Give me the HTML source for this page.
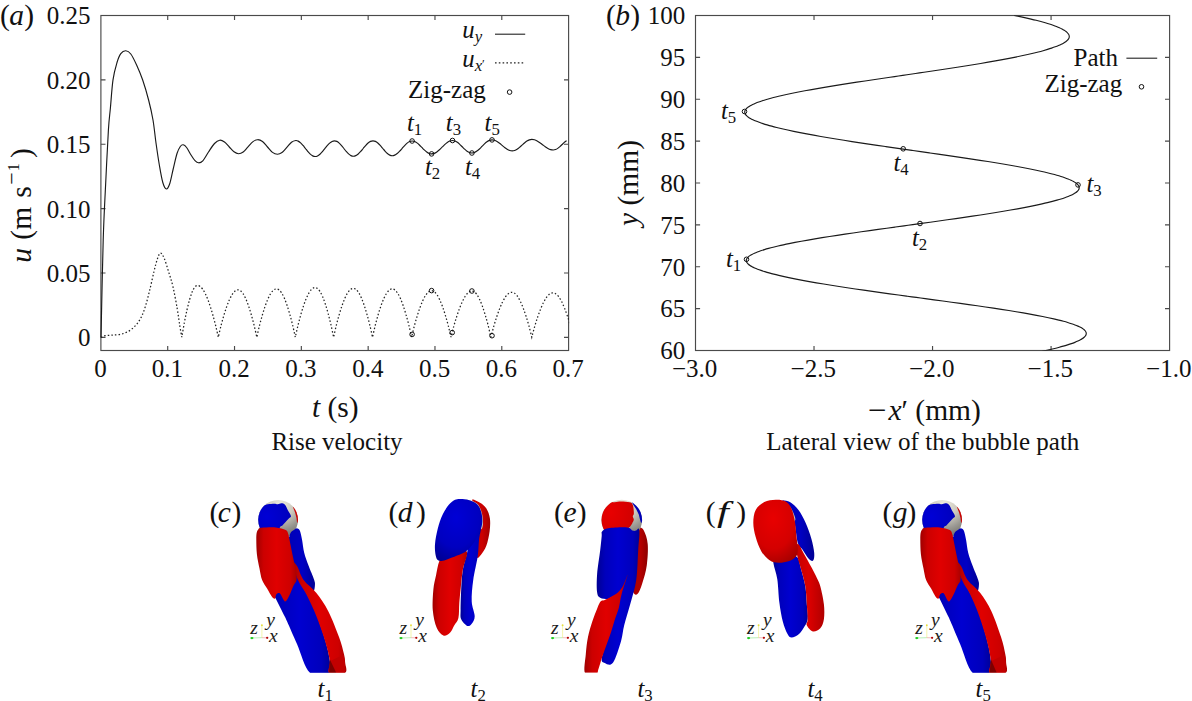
<!DOCTYPE html>
<html lang="en">
<head>
<meta charset="utf-8">
<title>Bubble rise velocity and zig-zag path</title>
<style>
html,body{margin:0;padding:0;background:#fff;}
body{width:1192px;height:701px;overflow:hidden;font-family:"Liberation Serif",serif;}
svg{display:block;}
</style>
</head>
<body>
<svg width="1192" height="701" viewBox="0 0 1192 701">
<rect width="1192" height="701" fill="#fff"/>
<g stroke="#4a4a4a" stroke-width="1.15" fill="none">
<rect x="100.90" y="15.50" width="467.70" height="335.00"/>
<path d="M167.71 350.50v-4.60 M167.71 15.50v4.60"/>
<path d="M234.53 350.50v-4.60 M234.53 15.50v4.60"/>
<path d="M301.34 350.50v-4.60 M301.34 15.50v4.60"/>
<path d="M368.16 350.50v-4.60 M368.16 15.50v4.60"/>
<path d="M434.97 350.50v-4.60 M434.97 15.50v4.60"/>
<path d="M501.79 350.50v-4.60 M501.79 15.50v4.60"/>
<path d="M100.90 337.40h4.60 M568.60 337.40h-4.60"/>
<path d="M100.90 273.00h4.60 M568.60 273.00h-4.60"/>
<path d="M100.90 208.60h4.60 M568.60 208.60h-4.60"/>
<path d="M100.90 144.20h4.60 M568.60 144.20h-4.60"/>
<path d="M100.90 79.80h4.60 M568.60 79.80h-4.60"/>
</g>
<g stroke="#4a4a4a" stroke-width="1.15" fill="none">
<rect x="695.50" y="15.50" width="474.10" height="335.00"/>
<path d="M814.02 350.50v-4.60 M814.02 15.50v4.60"/>
<path d="M932.55 350.50v-4.60 M932.55 15.50v4.60"/>
<path d="M1051.07 350.50v-4.60 M1051.07 15.50v4.60"/>
<path d="M695.50 308.62h4.60 M1169.60 308.62h-4.60"/>
<path d="M695.50 266.75h4.60 M1169.60 266.75h-4.60"/>
<path d="M695.50 224.88h4.60 M1169.60 224.88h-4.60"/>
<path d="M695.50 183.00h4.60 M1169.60 183.00h-4.60"/>
<path d="M695.50 141.12h4.60 M1169.60 141.12h-4.60"/>
<path d="M695.50 99.25h4.60 M1169.60 99.25h-4.60"/>
<path d="M695.50 57.38h4.60 M1169.60 57.38h-4.60"/>
</g>
<g font-family="Liberation Serif, serif" font-size="25.0" fill="#111">
<text x="90.6" y="346.40" text-anchor="end">0</text>
<text x="90.6" y="282.00" text-anchor="end">0.05</text>
<text x="90.6" y="217.60" text-anchor="end">0.10</text>
<text x="90.6" y="153.20" text-anchor="end">0.15</text>
<text x="90.6" y="88.80" text-anchor="end">0.20</text>
<text x="90.6" y="24.40" text-anchor="end">0.25</text>
<text x="100.50" y="376.8" text-anchor="middle">0</text>
<text x="167.31" y="376.8" text-anchor="middle">0.1</text>
<text x="234.13" y="376.8" text-anchor="middle">0.2</text>
<text x="300.94" y="376.8" text-anchor="middle">0.3</text>
<text x="367.76" y="376.8" text-anchor="middle">0.4</text>
<text x="434.57" y="376.8" text-anchor="middle">0.5</text>
<text x="501.39" y="376.8" text-anchor="middle">0.6</text>
<text x="568.20" y="376.8" text-anchor="middle">0.7</text>
<text x="685.2" y="359.30" text-anchor="end">60</text>
<text x="685.2" y="317.43" text-anchor="end">65</text>
<text x="685.2" y="275.55" text-anchor="end">70</text>
<text x="685.2" y="233.68" text-anchor="end">75</text>
<text x="685.2" y="191.80" text-anchor="end">80</text>
<text x="685.2" y="149.93" text-anchor="end">85</text>
<text x="685.2" y="108.05" text-anchor="end">90</text>
<text x="685.2" y="66.17" text-anchor="end">95</text>
<text x="685.2" y="24.30" text-anchor="end">100</text>
<text x="694.70" y="376.8" text-anchor="middle">−3.0</text>
<text x="813.23" y="376.8" text-anchor="middle">−2.5</text>
<text x="931.75" y="376.8" text-anchor="middle">−2.0</text>
<text x="1050.27" y="376.8" text-anchor="middle">−1.5</text>
<text x="1168.80" y="376.8" text-anchor="middle">−1.0</text>
<text x="337" y="450.2" text-anchor="middle">Rise velocity</text>
<text x="922.8" y="450.2" text-anchor="middle">Lateral view of the bubble path</text>
</g>
<g font-family="Liberation Serif, serif" font-size="29.5" fill="#111">
<text y="24.5"><tspan x="-0.1">(</tspan><tspan x="9.3" font-style="italic">a</tspan><tspan x="24.3">)</tspan></text>
<text y="24.7"><tspan x="606.0">(</tspan><tspan x="615.2" font-style="italic">b</tspan><tspan x="630.2">)</tspan></text>
<text x="335.3" y="416.6" text-anchor="middle"><tspan font-style="italic">t</tspan> (s)</text>
<text y="419.6"><tspan x="868.0" textLength="18.6" lengthAdjust="spacingAndGlyphs">−</tspan><tspan x="888.4" font-style="italic">x</tspan>′ (mm)</text>
<text transform="translate(30.7 262.8) rotate(-90)"><tspan font-style="italic">u</tspan><tspan dx="1"> (m</tspan><tspan dx="1.7"> s</tspan><tspan font-size="22" dy="-12" dx="1.7">−</tspan><tspan font-size="16" dx="0.9">1</tspan><tspan dy="12" dx="5.4">)</tspan></text>
<text transform="translate(638.3 183) rotate(-90)" text-anchor="middle"><tspan font-style="italic">y</tspan> (mm)</text>
</g>
<clipPath id="clipA"><rect x="99.90" y="15.50" width="469.20" height="335.00"/></clipPath>
<path d="M101.00 337.40 C101.37 321.17 102.43 265.40 103.20 240.00 C103.97 214.60 104.73 203.33 105.60 185.00 C106.47 166.67 107.60 142.83 108.40 130.00 C109.20 117.17 109.63 116.37 110.40 108.00 C111.17 99.63 111.90 87.38 113.00 79.80 C114.10 72.22 115.70 66.87 117.00 62.50 C118.30 58.13 119.33 55.55 120.80 53.60 C122.27 51.65 124.13 50.73 125.80 50.80 C127.47 50.87 129.00 51.63 130.80 54.00 C132.60 56.37 134.63 60.70 136.60 65.00 C138.57 69.30 140.60 73.97 142.60 79.80 C144.60 85.63 146.87 93.30 148.60 100.00 C150.33 106.70 151.77 112.83 153.00 120.00 C154.23 127.17 154.92 135.33 156.00 143.00 C157.08 150.67 158.37 159.42 159.50 166.00 C160.63 172.58 161.65 178.67 162.80 182.50 C163.95 186.33 165.23 188.83 166.40 189.00 C167.57 189.17 168.67 186.83 169.80 183.50 C170.93 180.17 172.00 174.00 173.20 169.00 C174.40 164.00 175.82 157.25 177.00 153.50 C178.18 149.75 179.27 147.95 180.30 146.50 C181.33 145.05 182.15 144.63 183.20 144.80 C184.25 144.97 185.30 145.80 186.60 147.50 C187.90 149.20 189.60 152.80 191.00 155.00 C192.40 157.20 193.73 159.40 195.00 160.70 C196.27 162.00 197.30 162.78 198.60 162.80 C199.90 162.82 201.15 162.60 202.80 160.80 C204.45 159.00 206.55 154.88 208.50 152.00 C210.45 149.12 212.63 145.47 214.50 143.50 C216.37 141.53 218.03 140.45 219.70 140.20 C221.37 139.95 222.90 140.87 224.50 142.00 C226.10 143.13 227.72 145.37 229.30 147.00 C230.88 148.63 232.47 150.68 234.00 151.80 C235.53 152.92 236.97 153.67 238.50 153.70 C240.03 153.73 241.62 153.15 243.20 152.00 C244.78 150.85 246.37 148.53 248.00 146.80 C249.63 145.07 251.38 142.78 253.00 141.60 C254.62 140.42 256.12 139.72 257.70 139.70 C259.28 139.68 260.87 140.28 262.50 141.50 C264.13 142.72 265.83 145.18 267.50 147.00 C269.17 148.82 270.85 151.20 272.50 152.40 C274.15 153.60 275.82 154.18 277.40 154.20 C278.98 154.22 280.43 153.63 282.00 152.50 C283.57 151.37 285.22 149.12 286.80 147.40 C288.38 145.68 290.00 143.35 291.50 142.20 C293.00 141.05 294.68 140.68 295.80 140.50 C296.92 140.32 297.41 140.72 298.21 141.11 C299.02 141.50 299.82 142.12 300.62 142.84 C301.43 143.56 302.23 144.50 303.04 145.44 C303.84 146.38 304.65 147.48 305.45 148.50 C306.25 149.52 307.06 150.62 307.86 151.56 C308.67 152.50 309.47 153.44 310.28 154.16 C311.08 154.88 311.88 155.50 312.69 155.89 C313.49 156.28 314.29 156.50 315.10 156.50 C315.91 156.50 316.72 156.29 317.53 155.90 C318.33 155.52 319.14 154.91 319.95 154.20 C320.76 153.49 321.57 152.58 322.38 151.65 C323.18 150.73 323.99 149.65 324.80 148.65 C325.61 147.65 326.42 146.57 327.23 145.65 C328.03 144.72 328.84 143.81 329.65 143.10 C330.46 142.39 331.27 141.78 332.07 141.40 C332.88 141.01 333.70 140.80 334.50 140.80 C335.30 140.80 336.07 141.01 336.85 141.39 C337.63 141.76 338.42 142.36 339.20 143.06 C339.98 143.75 340.77 144.65 341.55 145.55 C342.33 146.46 343.12 147.52 343.90 148.50 C344.68 149.48 345.47 150.54 346.25 151.45 C347.03 152.35 347.82 153.25 348.60 153.94 C349.38 154.64 350.17 155.24 350.95 155.61 C351.73 155.99 352.50 156.20 353.30 156.20 C354.10 156.20 354.94 155.99 355.76 155.61 C356.58 155.24 357.40 154.64 358.23 153.94 C359.05 153.25 359.87 152.35 360.69 151.45 C361.51 150.54 362.33 149.48 363.15 148.50 C363.97 147.52 364.79 146.46 365.61 145.55 C366.43 144.65 367.25 143.75 368.07 143.06 C368.90 142.36 369.72 141.76 370.54 141.39 C371.36 141.01 372.19 140.80 373.00 140.80 C373.81 140.80 374.60 141.00 375.40 141.37 C376.20 141.73 377.00 142.31 377.80 142.98 C378.60 143.65 379.40 144.52 380.20 145.40 C381.00 146.28 381.80 147.30 382.60 148.25 C383.40 149.20 384.20 150.22 385.00 151.10 C385.80 151.98 386.60 152.85 387.40 153.52 C388.20 154.19 389.00 154.77 389.80 155.13 C390.60 155.50 391.39 155.70 392.20 155.70 C393.01 155.70 393.86 155.50 394.69 155.14 C395.52 154.78 396.35 154.21 397.18 153.55 C398.00 152.88 398.83 152.03 399.66 151.16 C400.49 150.30 401.32 149.29 402.15 148.35 C402.98 147.41 403.81 146.40 404.64 145.54 C405.47 144.67 406.30 143.82 407.12 143.15 C407.95 142.49 408.78 141.92 409.61 141.56 C410.44 141.20 411.28 141.01 412.10 141.00 C412.92 140.99 413.73 141.18 414.54 141.49 C415.35 141.81 416.16 142.31 416.98 142.89 C417.79 143.47 418.60 144.22 419.41 144.98 C420.23 145.74 421.04 146.63 421.85 147.45 C422.66 148.27 423.48 149.16 424.29 149.92 C425.10 150.68 425.91 151.43 426.73 152.01 C427.54 152.59 428.35 153.09 429.16 153.41 C429.98 153.72 430.76 153.90 431.60 153.90 C432.44 153.90 433.34 153.72 434.21 153.39 C435.08 153.06 435.95 152.54 436.83 151.94 C437.70 151.33 438.57 150.55 439.44 149.76 C440.31 148.97 441.18 148.05 442.05 147.20 C442.92 146.35 443.79 145.43 444.66 144.64 C445.53 143.85 446.40 143.07 447.27 142.46 C448.15 141.86 449.02 141.34 449.89 141.01 C450.76 140.68 451.66 140.51 452.50 140.50 C453.34 140.49 454.12 140.67 454.93 140.98 C455.73 141.28 456.54 141.77 457.35 142.33 C458.16 142.89 458.97 143.62 459.77 144.36 C460.58 145.09 461.39 145.95 462.20 146.75 C463.01 147.55 463.82 148.41 464.62 149.14 C465.43 149.88 466.24 150.61 467.05 151.17 C467.86 151.73 468.67 152.22 469.47 152.52 C470.28 152.83 471.08 153.00 471.90 153.00 C472.72 153.00 473.57 152.82 474.41 152.50 C475.25 152.18 476.09 151.67 476.92 151.08 C477.76 150.49 478.60 149.73 479.44 148.96 C480.27 148.18 481.11 147.29 481.95 146.45 C482.79 145.61 483.62 144.72 484.46 143.94 C485.30 143.17 486.14 142.41 486.98 141.82 C487.81 141.23 488.65 140.72 489.49 140.40 C490.32 140.08 491.16 139.91 492.00 139.90 C492.84 139.89 493.68 140.05 494.52 140.32 C495.37 140.59 496.21 141.01 497.05 141.51 C497.89 142.01 498.73 142.65 499.58 143.30 C500.42 143.94 501.26 144.70 502.10 145.40 C502.94 146.10 503.78 146.86 504.62 147.50 C505.47 148.15 506.31 148.79 507.15 149.29 C507.99 149.79 508.83 150.21 509.68 150.48 C510.52 150.75 511.37 150.90 512.20 150.90 C513.03 150.90 513.83 150.74 514.65 150.46 C515.47 150.18 516.28 149.73 517.10 149.22 C517.92 148.70 518.73 148.03 519.55 147.35 C520.37 146.67 521.18 145.88 522.00 145.15 C522.82 144.42 523.63 143.63 524.45 142.95 C525.27 142.27 526.08 141.60 526.90 141.08 C527.72 140.57 528.53 140.12 529.35 139.84 C530.17 139.56 530.94 139.41 531.80 139.40 C532.66 139.39 533.59 139.54 534.49 139.80 C535.38 140.06 536.28 140.47 537.17 140.95 C538.07 141.43 538.97 142.05 539.86 142.67 C540.76 143.30 541.65 144.02 542.55 144.70 C543.45 145.38 544.34 146.10 545.24 146.73 C546.13 147.35 547.03 147.97 547.92 148.45 C548.82 148.93 549.72 149.34 550.61 149.60 C551.51 149.86 552.48 150.00 553.30 150.00 C554.12 150.00 554.77 149.85 555.51 149.58 C556.25 149.31 556.99 148.89 557.72 148.39 C558.46 147.89 559.20 147.25 559.94 146.60 C560.67 145.96 561.41 145.20 562.15 144.50 C562.89 143.80 563.62 143.04 564.36 142.40 C565.10 141.75 566.21 140.91 566.58 140.61" fill="none" stroke="#1a1a1a" stroke-width="1.15" stroke-linejoin="round" clip-path="url(#clipA)"/>
<path d="M101.00 337.40 C101.33 337.22 102.28 336.58 103.00 336.30 C103.72 336.02 103.80 335.90 105.30 335.70 C106.80 335.50 109.43 335.33 112.00 335.10 C114.57 334.87 117.83 335.00 120.70 334.30 C123.57 333.60 126.63 332.47 129.20 330.90 C131.77 329.33 134.10 327.18 136.10 324.90 C138.10 322.62 139.63 320.33 141.20 317.20 C142.77 314.07 144.07 310.67 145.50 306.10 C146.93 301.53 148.37 295.65 149.80 289.80 C151.23 283.95 152.82 276.20 154.10 271.00 C155.38 265.80 156.42 261.60 157.50 258.60 C158.58 255.60 159.47 253.00 160.60 253.00 C161.73 253.00 162.97 255.47 164.30 258.60 C165.63 261.73 167.17 267.17 168.60 271.80 C170.03 276.43 171.47 280.27 172.90 286.40 C174.33 292.53 176.05 302.03 177.20 308.60 C178.35 315.17 179.03 321.03 179.80 325.80 C180.57 330.57 181.47 335.30 181.80 337.20 L181.80 337.20 C182.23 334.71 183.54 326.82 184.41 322.25 C185.28 317.69 186.15 313.60 187.01 309.81 C187.88 306.03 188.75 302.54 189.62 299.54 C190.49 296.54 191.36 293.92 192.23 291.84 C193.10 289.76 193.97 288.14 194.84 287.08 C195.70 286.02 196.57 285.61 197.44 285.50 C198.31 285.39 199.18 285.83 200.05 286.44 C200.92 287.05 201.79 287.98 202.66 289.18 C203.53 290.37 204.40 291.88 205.26 293.63 C206.13 295.38 207.00 297.42 207.87 299.67 C208.74 301.92 209.61 304.44 210.48 307.14 C211.35 309.84 212.22 312.78 213.09 315.87 C213.95 318.97 214.82 322.17 215.69 325.73 C216.56 329.28 217.87 335.29 218.30 337.20 L218.30 337.20 C218.76 335.26 220.13 329.14 221.05 325.55 C221.97 321.96 222.88 318.73 223.80 315.65 C224.72 312.56 225.63 309.67 226.55 307.06 C227.47 304.45 228.38 302.05 229.30 299.98 C230.22 297.91 231.13 296.10 232.05 294.64 C232.97 293.18 233.88 292.02 234.80 291.21 C235.72 290.41 236.63 289.93 237.55 289.83 C238.47 289.73 239.38 289.97 240.30 290.60 C241.22 291.24 242.13 292.27 243.05 293.64 C243.97 295.01 244.88 296.77 245.80 298.82 C246.72 300.87 247.63 303.28 248.55 305.94 C249.47 308.60 250.38 311.58 251.30 314.76 C252.22 317.95 253.13 321.31 254.05 325.05 C254.97 328.79 256.34 335.17 256.80 337.20 L256.80 337.20 C257.26 335.22 258.63 328.99 259.55 325.33 C260.47 321.67 261.38 318.38 262.30 315.24 C263.22 312.09 264.13 309.14 265.05 306.48 C265.97 303.82 266.88 301.38 267.80 299.27 C268.72 297.16 269.63 295.32 270.55 293.83 C271.47 292.34 272.38 291.16 273.30 290.34 C274.22 289.52 275.13 289.03 276.05 288.93 C276.97 288.82 277.88 289.07 278.80 289.72 C279.72 290.37 280.63 291.42 281.55 292.81 C282.47 294.21 283.38 296.00 284.30 298.09 C285.22 300.18 286.13 302.64 287.05 305.35 C287.97 308.06 288.88 311.09 289.80 314.34 C290.72 317.58 291.63 321.01 292.55 324.82 C293.47 328.63 294.84 335.14 295.30 337.20 L295.30 337.20 C295.76 335.19 297.12 328.85 298.04 325.12 C298.95 321.40 299.86 318.05 300.77 314.84 C301.68 311.64 302.60 308.63 303.51 305.91 C304.42 303.19 305.33 300.69 306.24 298.52 C307.15 296.35 308.07 294.45 308.98 292.90 C309.89 291.35 310.80 290.11 311.71 289.24 C312.63 288.37 313.54 287.81 314.45 287.66 C315.36 287.51 316.27 287.69 317.19 288.31 C318.10 288.93 319.01 289.98 319.92 291.38 C320.83 292.79 321.75 294.62 322.66 296.75 C323.57 298.89 324.48 301.43 325.39 304.22 C326.30 307.01 327.22 310.15 328.13 313.50 C329.04 316.86 329.95 320.41 330.86 324.36 C331.78 328.31 333.14 335.06 333.60 337.20 L333.60 337.20 C334.06 335.18 335.45 328.83 336.38 325.09 C337.30 321.36 338.23 318.01 339.16 314.81 C340.08 311.61 341.01 308.61 341.94 305.91 C342.86 303.22 343.79 300.74 344.71 298.62 C345.64 296.49 346.57 294.63 347.49 293.15 C348.42 291.66 349.35 290.49 350.27 289.70 C351.20 288.91 352.12 288.47 353.05 288.41 C353.98 288.35 354.90 288.66 355.83 289.36 C356.75 290.05 357.68 291.15 358.61 292.58 C359.53 294.01 360.46 295.84 361.39 297.96 C362.31 300.07 363.24 302.56 364.16 305.28 C365.09 308.01 366.02 311.06 366.94 314.31 C367.87 317.57 368.80 320.99 369.72 324.81 C370.65 328.62 372.04 335.13 372.50 337.20 L372.50 337.20 C372.97 335.19 374.36 328.87 375.29 325.16 C376.22 321.45 377.15 318.12 378.09 314.94 C379.02 311.77 379.95 308.79 380.88 306.11 C381.81 303.43 382.74 300.98 383.67 298.88 C384.60 296.78 385.53 294.95 386.46 293.49 C387.40 292.03 388.33 290.88 389.26 290.12 C390.19 289.36 391.12 288.94 392.05 288.90 C392.98 288.87 393.91 289.21 394.84 289.91 C395.77 290.62 396.70 291.72 397.64 293.15 C398.57 294.58 399.50 296.39 400.43 298.49 C401.36 300.59 402.29 303.05 403.22 305.74 C404.15 308.43 405.08 311.44 406.01 314.65 C406.95 317.86 407.88 321.24 408.81 324.99 C409.74 328.75 411.13 335.17 411.60 337.20 L411.60 337.20 C412.07 335.28 413.48 329.24 414.41 325.69 C415.35 322.14 416.29 318.95 417.23 315.91 C418.17 312.87 419.10 310.01 420.04 307.44 C420.98 304.87 421.92 302.52 422.86 300.49 C423.80 298.46 424.73 296.69 425.67 295.27 C426.61 293.86 427.55 292.74 428.49 291.97 C429.42 291.21 430.36 290.78 431.30 290.71 C432.24 290.65 433.18 290.93 434.11 291.58 C435.05 292.24 435.99 293.27 436.93 294.64 C437.87 296.00 438.80 297.73 439.74 299.75 C440.68 301.76 441.62 304.13 442.56 306.73 C443.50 309.33 444.43 312.24 445.37 315.35 C446.31 318.45 447.25 321.73 448.19 325.37 C449.12 329.01 450.53 335.23 451.00 337.20 L451.00 337.20 C451.48 335.35 452.90 329.52 453.85 326.08 C454.80 322.65 455.75 319.57 456.70 316.61 C457.65 313.66 458.60 310.88 459.55 308.36 C460.50 305.84 461.45 303.51 462.40 301.49 C463.35 299.47 464.30 297.69 465.25 296.23 C466.20 294.76 467.15 293.58 468.10 292.72 C469.05 291.87 470.00 291.31 470.95 291.11 C471.90 290.91 472.85 291.00 473.80 291.52 C474.75 292.05 475.70 292.97 476.65 294.25 C477.60 295.52 478.55 297.20 479.50 299.18 C480.45 301.17 481.40 303.53 482.35 306.14 C483.30 308.75 484.25 311.70 485.20 314.86 C486.15 318.01 487.10 321.36 488.05 325.08 C489.00 328.81 490.42 335.18 490.90 337.20 L490.90 337.20 C491.39 335.36 492.85 329.56 493.82 326.15 C494.80 322.75 495.77 319.68 496.74 316.76 C497.72 313.84 498.69 311.09 499.66 308.62 C500.64 306.14 501.61 303.87 502.59 301.91 C503.56 299.95 504.53 298.24 505.51 296.86 C506.48 295.47 507.45 294.38 508.43 293.62 C509.40 292.87 510.38 292.41 511.35 292.32 C512.32 292.23 513.30 292.47 514.27 293.08 C515.25 293.68 516.22 294.66 517.19 295.96 C518.17 297.26 519.14 298.93 520.11 300.87 C521.09 302.82 522.06 305.11 523.04 307.62 C524.01 310.14 524.98 312.96 525.96 315.97 C526.93 318.99 527.90 322.17 528.88 325.70 C529.85 329.24 531.31 335.28 531.80 337.20 L531.80 337.20 C532.30 335.36 533.79 329.58 534.78 326.18 C535.77 322.78 536.76 319.72 537.76 316.81 C538.75 313.90 539.74 311.17 540.74 308.72 C541.73 306.26 542.72 304.01 543.71 302.07 C544.71 300.14 545.70 298.45 546.69 297.10 C547.69 295.75 548.68 294.69 549.67 293.98 C550.66 293.26 551.66 292.86 552.65 292.81 C553.64 292.76 554.64 293.05 555.63 293.68 C556.62 294.32 557.61 295.32 558.61 296.62 C559.60 297.93 560.59 299.59 561.59 301.52 C562.58 303.44 563.57 305.70 564.56 308.18 C565.56 310.66 566.55 313.43 567.54 316.39 C568.54 319.35 570.02 324.34 570.52 325.94" fill="none" stroke="#222" stroke-width="1.25" stroke-dasharray="1.5 2.1" clip-path="url(#clipA)"/>
<g fill="none" stroke="#111" stroke-width="1.0">
<circle cx="412.1" cy="141.0" r="2.3"/>
<circle cx="431.6" cy="153.9" r="2.3"/>
<circle cx="452.5" cy="140.5" r="2.3"/>
<circle cx="471.9" cy="153.0" r="2.3"/>
<circle cx="492.0" cy="139.9" r="2.3"/>
<circle cx="412.1" cy="334.4" r="2.3"/>
<circle cx="431.6" cy="290.6" r="2.3"/>
<circle cx="452.2" cy="332.6" r="2.3"/>
<circle cx="471.9" cy="291.0" r="2.3"/>
<circle cx="492.0" cy="335.7" r="2.3"/>
<circle cx="509.6" cy="92.1" r="2.3"/>
</g>
<text x="407.0" y="130.8" font-family="Liberation Serif, serif" font-size="24.7" fill="#111"><tspan font-style="italic">t</tspan><tspan font-size="16.8" dy="3.8">1</tspan></text>
<text x="445.8" y="130.8" font-family="Liberation Serif, serif" font-size="24.7" fill="#111"><tspan font-style="italic">t</tspan><tspan font-size="16.8" dy="3.8">3</tspan></text>
<text x="484.6" y="130.8" font-family="Liberation Serif, serif" font-size="24.7" fill="#111"><tspan font-style="italic">t</tspan><tspan font-size="16.8" dy="3.8">5</tspan></text>
<text x="424.9" y="174.7" font-family="Liberation Serif, serif" font-size="24.7" fill="#111"><tspan font-style="italic">t</tspan><tspan font-size="16.8" dy="3.8">2</tspan></text>
<text x="465.0" y="174.7" font-family="Liberation Serif, serif" font-size="24.7" fill="#111"><tspan font-style="italic">t</tspan><tspan font-size="16.8" dy="3.8">4</tspan></text>
<g font-family="Liberation Serif, serif" fill="#111">
<text x="462.3" y="38.1" font-size="24.7" font-style="italic">u<tspan font-size="16.8" dy="3.6">y</tspan></text>
<text x="462.3" y="67.0" font-size="24.7" font-style="italic">u<tspan font-size="16.8" dy="3.6">x</tspan><tspan font-size="12.5" dy="-2.6" font-style="normal">′</tspan></text>
<text x="485.8" y="97.6" font-size="25.0" text-anchor="end">Zig-zag</text>
<text x="1118" y="65.6" font-size="25.0" text-anchor="end">Path</text>
<text x="1122.2" y="91.6" font-size="25.0" text-anchor="end">Zig-zag</text>
</g>
<path d="M495 34.2H525.2" stroke="#222" stroke-width="1.1"/>
<path d="M495 62.8H524" stroke="#222" stroke-width="1.2" stroke-dasharray="1.6 2.2"/>
<path d="M1126.4 58.2H1157.2" stroke="#222" stroke-width="1.1"/>
<clipPath id="clipB"><rect x="695.50" y="15.50" width="474.10" height="335.00"/></clipPath>
<path d="M1014.13 15.37 C1015.12 15.57 1018.13 16.19 1020.06 16.60 C1021.99 17.01 1023.87 17.42 1025.71 17.83 C1027.54 18.25 1029.33 18.66 1031.07 19.07 C1032.80 19.48 1034.49 19.89 1036.13 20.31 C1037.76 20.72 1039.34 21.13 1040.87 21.54 C1042.39 21.96 1043.87 22.37 1045.28 22.78 C1046.69 23.20 1048.05 23.61 1049.35 24.03 C1050.65 24.44 1051.89 24.86 1053.07 25.27 C1054.24 25.69 1055.36 26.10 1056.42 26.52 C1057.47 26.94 1058.47 27.35 1059.40 27.77 C1060.33 28.19 1061.20 28.61 1062.00 29.02 C1062.80 29.44 1063.54 29.86 1064.21 30.28 C1064.88 30.70 1065.49 31.12 1066.03 31.54 C1066.57 31.96 1067.04 32.38 1067.45 32.80 C1067.85 33.22 1068.19 33.64 1068.47 34.06 C1068.74 34.49 1068.94 34.91 1069.08 35.33 C1069.21 35.75 1069.28 36.18 1069.28 36.60 C1069.28 37.02 1069.21 37.45 1069.06 37.87 C1068.91 38.30 1068.69 38.72 1068.39 39.15 C1068.10 39.57 1067.72 40.00 1067.28 40.42 C1066.84 40.85 1066.32 41.27 1065.73 41.70 C1065.15 42.13 1064.48 42.55 1063.75 42.98 C1063.02 43.41 1062.21 43.84 1061.34 44.26 C1060.46 44.69 1059.52 45.12 1058.50 45.54 C1057.49 45.97 1056.40 46.40 1055.25 46.83 C1054.10 47.26 1052.88 47.68 1051.59 48.11 C1050.31 48.54 1048.95 48.97 1047.54 49.40 C1046.12 49.82 1044.64 50.25 1043.10 50.68 C1041.56 51.11 1039.95 51.54 1038.29 51.96 C1036.62 52.39 1034.90 52.82 1033.12 53.25 C1031.33 53.67 1029.49 54.10 1027.60 54.53 C1025.70 54.96 1023.75 55.38 1021.75 55.81 C1019.75 56.24 1017.69 56.66 1015.59 57.09 C1013.48 57.52 1011.33 57.94 1009.13 58.37 C1006.93 58.79 1004.68 59.22 1002.39 59.64 C1000.10 60.07 997.76 60.49 995.39 60.92 C993.01 61.34 990.59 61.77 988.14 62.19 C985.69 62.61 983.20 63.04 980.68 63.46 C978.15 63.88 975.59 64.30 973.01 64.73 C970.42 65.15 967.80 65.57 965.16 65.99 C962.52 66.41 959.84 66.83 957.15 67.25 C954.46 67.67 951.74 68.09 949.00 68.51 C946.27 68.93 943.51 69.35 940.74 69.76 C937.97 70.18 935.19 70.60 932.39 71.02 C929.59 71.43 926.78 71.85 923.97 72.27 C921.15 72.68 918.32 73.10 915.50 73.52 C912.67 73.93 909.84 74.35 907.00 74.76 C904.17 75.17 901.34 75.59 898.51 76.00 C895.69 76.42 892.86 76.83 890.04 77.24 C887.23 77.66 884.42 78.07 881.62 78.48 C878.82 78.89 876.04 79.31 873.27 79.72 C870.50 80.13 867.74 80.54 865.01 80.95 C862.27 81.36 859.55 81.77 856.86 82.19 C854.17 82.60 851.49 83.01 848.85 83.42 C846.21 83.83 843.59 84.24 841.00 84.65 C838.42 85.06 835.86 85.47 833.33 85.88 C830.81 86.29 828.32 86.70 825.87 87.11 C823.42 87.52 821.00 87.93 818.62 88.34 C816.25 88.75 813.91 89.16 811.62 89.57 C809.33 89.98 807.08 90.39 804.88 90.80 C802.68 91.21 800.53 91.63 798.42 92.04 C796.32 92.45 794.26 92.86 792.26 93.27 C790.26 93.68 788.31 94.09 786.41 94.51 C784.52 94.92 782.68 95.33 780.89 95.74 C779.11 96.15 777.39 96.57 775.72 96.98 C774.06 97.39 772.45 97.81 770.91 98.22 C769.37 98.64 767.89 99.05 766.47 99.46 C765.06 99.88 763.70 100.29 762.42 100.71 C761.13 101.13 759.91 101.54 758.76 101.96 C757.61 102.37 756.52 102.79 755.51 103.21 C754.49 103.63 753.55 104.04 752.67 104.46 C751.80 104.88 750.99 105.30 750.26 105.72 C749.53 106.14 748.86 106.56 748.28 106.98 C747.69 107.40 747.17 107.82 746.73 108.24 C746.29 108.66 745.91 109.08 745.62 109.50 C745.32 109.93 745.10 110.35 744.95 110.77 C744.80 111.19 744.73 111.62 744.73 112.04 C744.73 112.46 744.81 112.89 744.96 113.32 C745.11 113.74 745.34 114.17 745.65 114.60 C745.95 115.03 746.33 115.45 746.79 115.88 C747.25 116.31 747.78 116.74 748.38 117.16 C748.99 117.59 749.67 118.02 750.43 118.45 C751.18 118.88 752.01 119.31 752.92 119.74 C753.82 120.17 754.79 120.60 755.84 121.03 C756.88 121.46 758.00 121.88 759.19 122.31 C760.38 122.74 761.63 123.17 762.96 123.60 C764.28 124.03 765.68 124.46 767.14 124.89 C768.59 125.32 770.12 125.75 771.71 126.18 C773.30 126.61 774.96 127.04 776.67 127.47 C778.38 127.90 780.16 128.33 782.00 128.76 C783.84 129.19 785.73 129.62 787.69 130.05 C789.64 130.48 791.65 130.91 793.71 131.34 C795.78 131.77 797.90 132.19 800.06 132.62 C802.23 133.05 804.46 133.48 806.72 133.91 C808.99 134.33 811.31 134.76 813.67 135.19 C816.03 135.62 818.44 136.04 820.88 136.47 C823.33 136.89 825.82 137.32 828.35 137.75 C830.88 138.17 833.45 138.60 836.04 139.02 C838.64 139.45 841.28 139.87 843.95 140.29 C846.61 140.72 849.31 141.14 852.04 141.56 C854.76 141.99 857.52 142.41 860.29 142.83 C863.06 143.25 865.87 143.67 868.69 144.09 C871.50 144.52 874.35 144.94 877.20 145.36 C880.05 145.78 882.93 146.20 885.81 146.61 C888.69 147.03 891.59 147.45 894.49 147.87 C897.39 148.29 900.30 148.71 903.22 149.12 C906.13 149.54 909.05 149.96 911.97 150.38 C914.89 150.79 917.81 151.21 920.72 151.62 C923.64 152.04 926.55 152.45 929.45 152.87 C932.35 153.28 935.25 153.70 938.13 154.11 C941.01 154.53 943.89 154.94 946.74 155.36 C949.59 155.77 952.44 156.18 955.25 156.60 C958.07 157.01 960.88 157.42 963.65 157.84 C966.42 158.25 969.18 158.66 971.90 159.07 C974.63 159.49 977.33 159.90 979.99 160.31 C982.66 160.72 985.30 161.14 987.90 161.55 C990.49 161.96 993.06 162.37 995.59 162.78 C998.12 163.20 1000.61 163.61 1003.06 164.02 C1005.50 164.43 1007.91 164.84 1010.27 165.26 C1012.63 165.67 1014.95 166.08 1017.22 166.49 C1019.48 166.91 1021.71 167.32 1023.88 167.73 C1026.04 168.15 1028.16 168.56 1030.23 168.97 C1032.29 169.39 1034.30 169.80 1036.25 170.21 C1038.21 170.63 1040.10 171.04 1041.94 171.46 C1043.78 171.87 1045.56 172.29 1047.27 172.70 C1048.98 173.12 1050.64 173.53 1052.23 173.95 C1053.82 174.36 1055.35 174.78 1056.80 175.20 C1058.26 175.61 1059.66 176.03 1060.98 176.45 C1062.31 176.86 1063.56 177.28 1064.75 177.70 C1065.94 178.12 1067.06 178.54 1068.10 178.96 C1069.15 179.38 1070.12 179.80 1071.02 180.22 C1071.93 180.64 1072.76 181.06 1073.51 181.48 C1074.27 181.90 1074.95 182.32 1075.56 182.74 C1076.16 183.17 1076.69 183.59 1077.15 184.01 C1077.61 184.43 1077.99 184.86 1078.29 185.28 C1078.60 185.71 1078.83 186.13 1078.98 186.55 C1079.13 186.98 1079.21 187.41 1079.21 187.83 C1079.21 188.25 1079.13 188.65 1078.98 189.06 C1078.83 189.47 1078.60 189.87 1078.30 190.28 C1077.99 190.69 1077.61 191.10 1077.16 191.52 C1076.71 191.93 1076.18 192.34 1075.57 192.75 C1074.97 193.16 1074.29 193.57 1073.54 193.98 C1072.79 194.39 1071.96 194.81 1071.06 195.22 C1070.17 195.63 1069.19 196.04 1068.15 196.45 C1067.11 196.87 1066.00 197.28 1064.82 197.69 C1063.64 198.10 1062.39 198.52 1061.07 198.93 C1059.75 199.34 1058.36 199.75 1056.91 200.17 C1055.46 200.58 1053.94 200.99 1052.36 201.41 C1050.77 201.82 1049.13 202.23 1047.42 202.64 C1045.71 203.06 1043.94 203.47 1042.11 203.88 C1040.29 204.29 1038.40 204.71 1036.46 205.12 C1034.51 205.53 1032.51 205.94 1030.46 206.35 C1028.40 206.76 1026.29 207.18 1024.14 207.59 C1021.98 208.00 1019.77 208.41 1017.51 208.82 C1015.25 209.23 1012.94 209.64 1010.59 210.05 C1008.25 210.46 1005.85 210.87 1003.41 211.28 C1000.98 211.69 998.50 212.09 995.98 212.50 C993.47 212.91 990.91 213.32 988.32 213.73 C985.74 214.13 983.11 214.54 980.46 214.95 C977.81 215.35 975.12 215.76 972.41 216.16 C969.70 216.57 966.95 216.98 964.19 217.38 C961.43 217.79 958.64 218.19 955.84 218.59 C953.03 219.00 950.20 219.40 947.36 219.80 C944.52 220.21 941.66 220.61 938.79 221.01 C935.93 221.41 933.04 221.81 930.15 222.21 C927.27 222.62 924.37 223.02 921.47 223.42 C918.57 223.82 915.66 224.22 912.75 224.62 C909.85 225.01 906.94 225.41 904.04 225.81 C901.14 226.21 898.24 226.61 895.36 227.01 C892.47 227.40 889.58 227.80 886.72 228.20 C883.85 228.60 880.99 228.99 878.15 229.39 C875.31 229.79 872.48 230.18 869.67 230.58 C866.87 230.97 864.08 231.37 861.32 231.77 C858.56 232.16 855.81 232.56 853.10 232.95 C850.39 233.35 847.70 233.74 845.05 234.14 C842.40 234.53 839.77 234.93 837.19 235.32 C834.60 235.72 832.04 236.11 829.53 236.51 C827.01 236.90 824.53 237.30 822.10 237.69 C819.66 238.09 817.26 238.48 814.92 238.88 C812.57 239.27 810.26 239.67 808.00 240.06 C805.74 240.46 803.53 240.85 801.37 241.25 C799.22 241.65 797.11 242.04 795.05 242.44 C793.00 242.83 791.00 243.23 789.05 243.63 C787.11 244.02 785.22 244.42 783.40 244.82 C781.57 245.21 779.80 245.61 778.09 246.01 C776.38 246.41 774.74 246.81 773.15 247.21 C771.57 247.60 770.05 248.00 768.60 248.40 C767.15 248.80 765.76 249.20 764.44 249.60 C763.12 250.00 761.87 250.40 760.69 250.80 C759.51 251.21 758.40 251.61 757.36 252.01 C756.32 252.41 755.34 252.81 754.45 253.22 C753.55 253.62 752.72 254.02 751.97 254.43 C751.22 254.83 750.54 255.24 749.94 255.64 C749.33 256.04 748.80 256.45 748.35 256.86 C747.90 257.26 747.52 257.67 747.21 258.07 C746.91 258.48 746.68 258.89 746.53 259.30 C746.38 259.70 746.30 260.11 746.30 260.52 C746.30 260.93 746.38 261.34 746.53 261.75 C746.69 262.16 746.92 262.57 747.23 262.98 C747.54 263.39 747.93 263.81 748.39 264.22 C748.86 264.63 749.40 265.04 750.01 265.45 C750.63 265.87 751.32 266.28 752.09 266.69 C752.86 267.11 753.70 267.52 754.62 267.93 C755.54 268.35 756.53 268.76 757.59 269.17 C758.65 269.59 759.79 270.00 761.00 270.41 C762.20 270.83 763.48 271.24 764.83 271.66 C766.17 272.07 767.59 272.49 769.07 272.90 C770.56 273.31 772.11 273.73 773.72 274.14 C775.34 274.56 777.02 274.97 778.76 275.38 C780.51 275.80 782.31 276.21 784.18 276.63 C786.05 277.04 787.98 277.45 789.96 277.87 C791.94 278.28 793.99 278.69 796.09 279.11 C798.18 279.52 800.34 279.93 802.54 280.34 C804.74 280.76 807.00 281.17 809.31 281.58 C811.61 281.99 813.97 282.40 816.37 282.81 C818.77 283.22 821.22 283.64 823.70 284.05 C826.19 284.46 828.72 284.87 831.29 285.28 C833.86 285.69 836.47 286.09 839.11 286.50 C841.75 286.91 844.43 287.32 847.14 287.73 C849.85 288.14 852.60 288.54 855.36 288.95 C858.13 289.36 860.93 289.76 863.75 290.17 C866.57 290.58 869.42 290.98 872.29 291.39 C875.15 291.79 878.04 292.20 880.94 292.60 C883.84 293.01 886.76 293.41 889.69 293.81 C892.62 294.22 895.56 294.62 898.51 295.02 C901.46 295.42 904.42 295.83 907.38 296.23 C910.35 296.63 913.31 297.03 916.28 297.43 C919.25 297.83 922.21 298.23 925.18 298.63 C928.14 299.03 931.10 299.43 934.05 299.83 C937.00 300.23 939.94 300.63 942.87 301.03 C945.80 301.42 948.72 301.82 951.62 302.22 C954.52 302.62 957.41 303.02 960.27 303.41 C963.14 303.81 965.99 304.21 968.81 304.61 C971.63 305.00 974.43 305.40 977.20 305.80 C979.96 306.19 982.71 306.59 985.42 306.99 C988.13 307.38 990.81 307.78 993.45 308.18 C996.09 308.57 998.70 308.97 1001.27 309.36 C1003.84 309.76 1006.37 310.16 1008.86 310.55 C1011.34 310.95 1013.79 311.35 1016.19 311.74 C1018.59 312.14 1020.95 312.54 1023.25 312.93 C1025.56 313.33 1027.82 313.73 1030.02 314.12 C1032.22 314.52 1034.38 314.92 1036.47 315.31 C1038.57 315.71 1040.62 316.11 1042.60 316.51 C1044.58 316.91 1046.51 317.30 1048.38 317.70 C1050.25 318.10 1052.05 318.50 1053.80 318.90 C1055.54 319.30 1057.22 319.70 1058.84 320.10 C1060.45 320.50 1062.00 320.90 1063.49 321.30 C1064.97 321.70 1066.39 322.10 1067.73 322.50 C1069.08 322.91 1070.36 323.31 1071.56 323.71 C1072.77 324.11 1073.91 324.52 1074.97 324.92 C1076.03 325.32 1077.02 325.73 1077.94 326.13 C1078.86 326.54 1079.70 326.94 1080.47 327.35 C1081.24 327.75 1081.93 328.16 1082.55 328.56 C1083.16 328.97 1083.70 329.38 1084.17 329.78 C1084.63 330.19 1085.02 330.60 1085.33 331.01 C1085.64 331.41 1085.87 331.82 1086.03 332.23 C1086.18 332.64 1086.26 333.04 1086.26 333.46 C1086.26 333.88 1086.18 334.30 1086.02 334.72 C1085.87 335.15 1085.63 335.57 1085.32 335.99 C1085.01 336.41 1084.62 336.83 1084.15 337.26 C1083.68 337.68 1083.13 338.10 1082.51 338.53 C1081.89 338.95 1081.19 339.37 1080.42 339.80 C1079.64 340.22 1078.79 340.65 1077.87 341.07 C1076.94 341.50 1075.94 341.92 1074.87 342.35 C1073.80 342.77 1072.65 343.20 1071.43 343.62 C1070.21 344.05 1068.92 344.47 1067.57 344.90 C1066.21 345.32 1064.78 345.75 1063.28 346.17 C1061.78 346.60 1060.22 347.02 1058.59 347.45 C1056.96 347.87 1055.26 348.30 1053.50 348.72 C1051.74 349.15 1049.92 349.57 1048.04 350.00 C1046.15 350.42 1043.18 351.06 1042.20 351.27" fill="none" stroke="#1a1a1a" stroke-width="1.15" clip-path="url(#clipB)"/>
<g fill="none" stroke="#111" stroke-width="1.0">
<circle cx="744.5" cy="111.5" r="2.3"/>
<circle cx="903.2" cy="148.8" r="2.3"/>
<circle cx="1078.0" cy="184.9" r="2.3"/>
<circle cx="920.0" cy="223.5" r="2.3"/>
<circle cx="746.5" cy="259.3" r="2.3"/>
<circle cx="1141.5" cy="86.8" r="2.3"/>
</g>
<text x="721.0" y="119.1" font-family="Liberation Serif, serif" font-size="24.7" fill="#111"><tspan font-style="italic">t</tspan><tspan font-size="16.8" dy="3.8">5</tspan></text>
<text x="893.4" y="171.1" font-family="Liberation Serif, serif" font-size="24.7" fill="#111"><tspan font-style="italic">t</tspan><tspan font-size="16.8" dy="3.8">4</tspan></text>
<text x="1086.4" y="192.0" font-family="Liberation Serif, serif" font-size="24.7" fill="#111"><tspan font-style="italic">t</tspan><tspan font-size="16.8" dy="3.8">3</tspan></text>
<text x="912.0" y="246.4" font-family="Liberation Serif, serif" font-size="24.7" fill="#111"><tspan font-style="italic">t</tspan><tspan font-size="16.8" dy="3.8">2</tspan></text>
<text x="726.0" y="267.0" font-family="Liberation Serif, serif" font-size="24.7" fill="#111"><tspan font-style="italic">t</tspan><tspan font-size="16.8" dy="3.8">1</tspan></text>
<defs>
<linearGradient id="gR" x1="0" y1="0" x2="1" y2="0"><stop offset="0" stop-color="#a00000"/><stop offset="0.18" stop-color="#cc0000"/><stop offset="0.5" stop-color="#e00000"/><stop offset="0.85" stop-color="#ce0000"/><stop offset="1" stop-color="#aa0000"/></linearGradient>
<linearGradient id="gB" x1="0" y1="0" x2="1" y2="0"><stop offset="0" stop-color="#000094"/><stop offset="0.2" stop-color="#0000bc"/><stop offset="0.5" stop-color="#0000d0"/><stop offset="0.85" stop-color="#0000bc"/><stop offset="1" stop-color="#000096"/></linearGradient>
<linearGradient id="gRd" x1="0" y1="0" x2="1" y2="0"><stop offset="0" stop-color="#c40000"/><stop offset="0.55" stop-color="#cc0000"/><stop offset="1" stop-color="#a00000"/></linearGradient>
<linearGradient id="gBd" x1="0" y1="0" x2="1" y2="0"><stop offset="0" stop-color="#0000b4"/><stop offset="0.55" stop-color="#0000c4"/><stop offset="1" stop-color="#000094"/></linearGradient>
<linearGradient id="gRe" x1="0" y1="0" x2="1" y2="0"><stop offset="0" stop-color="#a80000"/><stop offset="0.6" stop-color="#b40000"/><stop offset="1" stop-color="#8c0000"/></linearGradient>
<linearGradient id="gRf" x1="0" y1="0" x2="1" y2="0"><stop offset="0" stop-color="#c40000"/><stop offset="0.45" stop-color="#dc0000"/><stop offset="1" stop-color="#b00000"/></linearGradient>
<radialGradient id="gS" cx="0.55" cy="0.12" r="0.85"><stop offset="0" stop-color="#efece0"/><stop offset="0.4" stop-color="#ccc9be"/><stop offset="0.7" stop-color="#9a9892"/><stop offset="1" stop-color="#6e6d68"/></radialGradient>
<radialGradient id="gRs" cx="0.45" cy="0.3" r="0.8"><stop offset="0" stop-color="#e80000"/><stop offset="0.6" stop-color="#d40000"/><stop offset="1" stop-color="#a00000"/></radialGradient>
<radialGradient id="gBs" cx="0.45" cy="0.3" r="0.8"><stop offset="0" stop-color="#0000d6"/><stop offset="0.6" stop-color="#0000c0"/><stop offset="1" stop-color="#00008e"/></radialGradient>
</defs>
<clipPath id="csc"><ellipse cx="278.1" cy="519.8" rx="19.9" ry="19.9"/></clipPath>
<ellipse cx="278.1" cy="519.8" rx="19.9" ry="19.9" fill="url(#gS)"/>
<g clip-path="url(#csc)">
<path d="M250.00 545.00 C245.33 538.50 248.00 512.57 250.00 506.00 C252.00 499.43 259.03 505.88 262.00 505.60 C264.97 505.32 265.77 504.60 267.80 504.30 C269.83 504.00 272.53 503.80 274.20 503.80 C275.87 503.80 276.60 504.38 277.80 504.30 C279.00 504.22 280.20 503.22 281.40 503.30 C282.60 503.38 283.90 503.58 285.00 504.80 C286.10 506.02 287.00 508.70 288.00 510.60 C289.00 512.50 290.90 514.83 291.00 516.20 C291.10 517.57 289.50 517.83 288.60 518.80 C287.70 519.77 286.63 520.87 285.60 522.00 C284.57 523.13 283.40 524.50 282.40 525.60 C281.40 526.70 280.33 525.37 279.60 528.60 C278.87 531.83 282.93 542.27 278.00 545.00 C273.07 547.73 254.67 551.50 250.00 545.00Z" fill="url(#gBs)" />
<path d="M292.8 506.4 L300.0 506.0 L300.0 523.0 L297.0 522.6 L296.5 518.0 L295.1 512.5 L293.7 509.0Z" fill="#cc0000" />
</g>
<path d="M289.50 536.00 C290.27 533.27 290.75 532.70 291.60 531.60 C292.45 530.50 293.63 529.93 294.60 529.40 C295.57 528.87 296.52 528.18 297.40 528.40 C298.28 528.62 299.12 528.78 299.90 530.70 C300.68 532.62 301.38 536.22 302.10 539.90 C302.82 543.58 303.13 548.52 304.20 552.80 C305.27 557.08 306.83 561.08 308.50 565.60 C310.17 570.12 313.13 576.55 314.20 579.90 C315.27 583.25 315.02 583.78 314.90 585.70 C314.78 587.62 314.40 590.60 313.50 591.40 C312.60 592.20 311.42 591.40 309.50 590.50 C307.58 589.60 304.58 588.75 302.00 586.00 C299.42 583.25 296.50 580.33 294.00 574.00 C291.50 567.67 287.75 554.33 287.00 548.00 C286.25 541.67 288.73 538.73 289.50 536.00Z" fill="url(#gBd)" />
<path d="M268.00 582.00 C265.62 587.60 273.23 593.47 275.70 598.60 C278.17 603.73 280.90 609.00 282.80 612.80 C284.70 616.60 284.72 616.17 287.10 621.40 C289.48 626.63 293.30 635.63 297.10 644.20 C300.90 652.77 304.55 668.03 309.90 672.80 C315.25 677.57 325.87 674.72 329.20 672.80 C332.53 670.88 330.50 666.53 329.90 661.30 C329.30 656.07 327.73 649.00 325.60 641.40 C323.47 633.80 320.18 623.55 317.10 615.70 C314.02 607.85 310.20 600.25 307.10 594.30 C304.00 588.35 301.35 584.88 298.50 580.00 C295.65 575.12 295.08 564.67 290.00 565.00 C284.92 565.33 270.38 576.40 268.00 582.00Z" fill="url(#gB)" />
<path d="M292.00 562.00 C292.17 564.33 295.62 574.62 298.00 580.00 C300.38 585.38 303.27 588.35 306.30 594.30 C309.33 600.25 313.05 607.85 316.20 615.70 C319.35 623.55 322.92 633.80 325.20 641.40 C327.48 649.00 329.23 656.07 329.90 661.30 C330.57 666.53 326.65 670.88 329.20 672.80 C331.75 674.72 342.53 674.47 345.20 672.80 C347.87 671.13 345.40 665.90 345.20 662.80 C345.00 659.70 345.03 658.48 344.00 654.20 C342.97 649.92 341.60 644.23 339.00 637.10 C336.40 629.97 332.20 618.78 328.40 611.40 C324.60 604.02 320.33 598.03 316.20 592.80 C312.07 587.57 306.80 584.47 303.60 580.00 C300.40 575.53 298.93 569.00 297.00 566.00 C295.07 563.00 291.83 559.67 292.00 562.00Z" fill="url(#gR)" />
<path d="M329.9 661.3 L343.6 654.4 L344.9 662.8 L344.9 672.8 L329.2 672.8Z" fill="#c20000" />
<path d="M329.9 659.5 L336.2 672.8 L329.0 672.8Z" fill="#7c0000" />
<rect x="295.0" y="672.8" width="60" height="6" fill="#fff"/>
<path d="M258.40 529.20 C259.22 528.37 258.72 528.10 261.60 527.80 C264.48 527.50 271.68 527.03 275.70 527.40 C279.72 527.77 283.60 528.87 285.70 530.00 C287.80 531.13 287.52 531.83 288.30 534.20 C289.08 536.57 289.62 540.38 290.40 544.20 C291.18 548.02 292.13 552.82 293.00 557.10 C293.87 561.38 295.00 566.08 295.60 569.90 C296.20 573.72 296.95 577.37 296.60 580.00 C296.25 582.63 294.73 583.08 293.50 585.70 C292.27 588.32 290.62 593.08 289.20 595.70 C287.78 598.32 286.53 601.75 285.00 601.40 C283.47 601.05 281.43 594.78 280.00 593.60 C278.57 592.42 277.23 593.47 276.40 594.30 C275.57 595.13 275.72 598.13 275.00 598.60 C274.28 599.07 273.42 598.77 272.10 597.10 C270.78 595.43 268.77 591.45 267.10 588.60 C265.43 585.75 263.37 583.35 262.10 580.00 C260.83 576.65 260.37 572.80 259.50 568.50 C258.63 564.20 257.43 558.97 256.90 554.20 C256.37 549.43 256.33 543.47 256.30 539.90 C256.27 536.33 256.35 534.58 256.70 532.80 C257.05 531.02 257.58 530.03 258.40 529.20Z" fill="url(#gR)" />
<path d="M472.10 500.00 C471.93 498.47 477.62 501.38 480.00 502.80 C482.38 504.22 484.75 505.88 486.40 508.50 C488.05 511.12 489.37 514.68 489.90 518.50 C490.43 522.32 490.18 526.88 489.60 531.40 C489.02 535.92 487.77 541.80 486.40 545.60 C485.03 549.40 482.95 552.17 481.40 554.20 C479.85 556.23 478.00 558.50 477.10 557.80 C476.20 557.10 475.52 554.63 476.00 550.00 C476.48 545.37 479.17 536.33 480.00 530.00 C480.83 523.67 482.32 517.00 481.00 512.00 C479.68 507.00 472.27 501.53 472.10 500.00Z" fill="url(#gRd)" />
<path d="M466.00 499.60 C466.17 499.18 474.37 501.30 477.00 503.50 C479.63 505.70 480.80 509.38 481.80 512.80 C482.80 516.22 483.10 521.30 483.00 524.00 C482.90 526.70 481.70 530.50 481.20 529.00 C480.70 527.50 480.87 518.83 480.00 515.00 C479.13 511.17 478.33 508.57 476.00 506.00 C473.67 503.43 465.83 500.02 466.00 499.60Z" fill="#c8c4b8" />
<path d="M480.50 527.00 C482.00 527.00 479.47 535.13 479.00 540.00 C478.53 544.87 478.67 549.50 477.70 556.20 C476.73 562.90 474.20 572.68 473.20 580.20 C472.20 587.72 471.45 595.28 471.70 601.30 C471.95 607.32 474.70 612.55 474.70 616.30 C474.70 620.05 472.95 622.20 471.70 623.80 C470.45 625.40 468.95 626.65 467.20 625.90 C465.45 625.15 462.30 621.90 461.20 619.30 C460.10 616.70 460.60 615.32 460.60 610.30 C460.60 605.28 460.83 595.93 461.20 589.20 C461.57 582.47 461.82 575.97 462.80 569.90 C463.78 563.83 465.90 557.78 467.10 552.80 C468.30 547.82 467.77 544.30 470.00 540.00 C472.23 535.70 479.00 527.00 480.50 527.00Z" fill="url(#gB)" />
<path d="M439.30 561.30 C437.80 564.73 436.98 570.95 436.00 575.60 C435.02 580.25 433.93 583.42 433.40 589.20 C432.87 594.98 432.27 603.92 432.80 610.30 C433.33 616.68 434.83 623.28 436.60 627.50 C438.37 631.72 441.13 634.78 443.40 635.60 C445.67 636.42 448.40 634.10 450.20 632.40 C452.00 630.70 452.83 627.80 454.20 625.40 C455.57 623.00 457.55 621.73 458.40 618.00 C459.25 614.27 458.93 607.80 459.30 603.00 C459.67 598.20 460.02 594.72 460.60 589.20 C461.18 583.68 461.72 575.97 462.80 569.90 C463.88 563.83 467.57 556.12 467.10 552.80 C466.63 549.48 463.68 549.63 460.00 550.00 C456.32 550.37 448.45 553.12 445.00 555.00 C441.55 556.88 440.80 557.87 439.30 561.30Z" fill="url(#gR)" />
<path d="M457.10 499.30 C460.18 498.70 465.17 499.17 468.50 500.00 C471.83 500.83 474.95 502.17 477.10 504.30 C479.25 506.43 480.57 509.48 481.40 512.80 C482.23 516.12 482.58 520.63 482.10 524.20 C481.62 527.77 480.05 530.87 478.50 534.20 C476.95 537.53 474.93 541.33 472.80 544.20 C470.67 547.07 468.32 549.50 465.70 551.40 C463.08 553.30 460.43 554.18 457.10 555.60 C453.77 557.02 448.80 559.07 445.70 559.90 C442.60 560.73 440.17 561.32 438.50 560.60 C436.83 559.88 436.28 558.33 435.70 555.60 C435.12 552.87 434.65 548.72 435.00 544.20 C435.35 539.68 436.50 533.48 437.80 528.50 C439.10 523.52 440.77 518.45 442.80 514.30 C444.83 510.15 447.62 506.10 450.00 503.60 C452.38 501.10 454.02 499.90 457.10 499.30Z" fill="url(#gBs)" />
<clipPath id="cse"><ellipse cx="621.8" cy="520.0" rx="20.3" ry="20.3"/></clipPath>
<path d="M632.00 532.00 C633.53 528.23 637.23 527.83 639.20 527.60 C641.17 527.37 642.38 527.85 643.80 530.60 C645.22 533.35 647.20 538.33 647.70 544.10 C648.20 549.87 647.70 558.68 646.80 565.20 C645.90 571.72 643.82 578.43 642.30 583.20 C640.78 587.97 639.22 592.28 637.70 593.80 C636.18 595.32 634.48 595.07 633.20 592.30 C631.92 589.53 630.53 584.22 630.00 577.20 C629.47 570.18 629.67 557.73 630.00 550.20 C630.33 542.67 630.47 535.77 632.00 532.00Z" fill="url(#gRe)" />
<ellipse cx="621.8" cy="520.0" rx="20.3" ry="20.3" fill="url(#gS)"/>
<g clip-path="url(#cse)">
<path d="M595.00 548.00 C589.83 539.67 592.17 505.67 595.00 498.00 C597.83 490.33 607.67 501.40 612.00 502.00 C616.33 502.60 618.07 501.55 621.00 501.60 C623.93 501.65 627.67 501.83 629.60 502.30 C631.53 502.77 631.93 503.28 632.60 504.40 C633.27 505.52 633.40 507.40 633.60 509.00 C633.80 510.60 633.93 512.77 633.80 514.00 C633.67 515.23 632.80 515.47 632.80 516.40 C632.80 517.33 633.90 518.43 633.80 519.60 C633.70 520.77 632.83 522.20 632.20 523.40 C631.57 524.60 630.62 525.87 630.00 526.80 C629.38 527.73 629.17 525.47 628.50 529.00 C627.83 532.53 631.58 544.83 626.00 548.00 C620.42 551.17 600.17 556.33 595.00 548.00Z" fill="url(#gRs)" />
<path d="M630.6 500.0 L645.0 500.0 L645.0 523.5 L640.9 522.6 L640.0 519.4 L638.8 514.6 L636.1 509.1 L633.4 505.0Z" fill="#0000b8" />
</g>
<path d="M602.10 531.40 C603.23 530.10 604.33 528.87 608.50 528.20 C612.67 527.53 623.08 527.00 627.10 527.40 C631.12 527.80 631.12 530.07 632.60 530.60 C634.08 531.13 635.00 530.93 636.00 530.60 C637.00 530.27 638.03 528.03 638.60 528.60 C639.17 529.17 639.47 530.40 639.40 534.00 C639.33 537.60 638.73 542.50 638.20 550.20 C637.67 557.90 637.53 571.18 636.20 580.20 C634.87 589.22 632.20 596.78 630.20 604.30 C628.20 611.82 625.70 619.28 624.20 625.30 C622.70 631.32 622.70 634.88 621.20 640.40 C619.70 645.92 616.95 654.40 615.20 658.40 C613.45 662.40 612.45 663.65 610.70 664.40 C608.95 665.15 606.20 663.90 604.70 662.90 C603.20 661.90 601.20 662.65 601.70 658.40 C602.20 654.15 605.82 643.80 607.70 637.40 C609.58 631.00 611.95 626.57 613.00 620.00 C614.05 613.43 614.88 601.52 614.00 598.00 C613.12 594.48 610.00 598.95 607.70 598.90 C605.40 598.85 601.97 598.80 600.20 597.70 C598.43 596.60 597.62 596.22 597.10 592.30 C596.58 588.38 596.58 581.22 597.10 574.20 C597.62 567.18 599.43 556.57 600.20 550.20 C600.97 543.83 601.38 539.13 601.70 536.00 C602.02 532.87 600.97 532.70 602.10 531.40Z" fill="url(#gB)" />
<path d="M627.60 575.00 C627.35 576.42 623.07 588.72 621.60 594.20 C620.13 599.68 619.95 603.62 618.80 607.90 C617.65 612.18 615.98 615.90 614.70 619.90 C613.42 623.90 612.42 627.90 611.10 631.90 C609.78 635.90 608.23 639.90 606.80 643.90 C605.37 647.90 603.92 651.62 602.50 655.90 C601.08 660.18 599.30 666.72 598.30 669.60 C597.30 672.48 598.70 672.60 596.50 673.20 C594.30 673.80 586.88 676.37 585.10 673.20 C583.32 670.03 585.32 660.22 585.80 654.20 C586.28 648.18 586.92 642.53 588.00 637.10 C589.08 631.67 590.73 626.47 592.30 621.60 C593.87 616.73 595.98 611.28 597.40 607.90 C598.82 604.52 599.67 602.58 600.80 601.30 C601.93 600.02 602.48 600.95 604.20 600.20 C605.92 599.45 608.82 598.08 611.10 596.80 C613.38 595.52 615.90 594.35 617.90 592.50 C619.90 590.65 621.48 588.62 623.10 585.70 C624.72 582.78 627.85 573.58 627.60 575.00Z" fill="url(#gR)" />
<rect x="575" y="672.6" width="40" height="6" fill="#fff"/>
<path d="M782.10 500.30 C782.42 499.82 787.17 500.48 789.90 502.10 C792.63 503.72 795.88 506.55 798.50 510.00 C801.12 513.45 803.47 518.05 805.60 522.80 C807.73 527.55 809.87 533.50 811.30 538.50 C812.73 543.50 813.90 549.12 814.20 552.80 C814.50 556.48 814.05 559.65 813.10 560.60 C812.15 561.55 810.22 560.28 808.50 558.50 C806.78 556.72 804.58 552.52 802.80 549.90 C801.02 547.28 799.27 547.78 797.80 542.80 C796.33 537.82 795.63 526.30 794.00 520.00 C792.37 513.70 789.98 508.28 788.00 505.00 C786.02 501.72 781.78 500.78 782.10 500.30Z" fill="url(#gBd)" />
<path d="M789.50 506.00 C789.77 505.62 792.02 509.83 793.00 512.00 C793.98 514.17 795.32 517.50 795.40 519.00 C795.48 520.50 794.17 521.78 793.50 521.00 C792.83 520.22 792.07 516.80 791.40 514.30 C790.73 511.80 789.23 506.38 789.50 506.00Z" fill="#c8c4b8" />
<path d="M773.50 563.50 C773.88 567.03 776.32 572.65 777.30 579.20 C778.28 585.75 778.48 595.73 779.40 602.80 C780.32 609.87 781.47 616.43 782.80 621.60 C784.13 626.77 785.93 631.13 787.40 633.80 C788.87 636.47 789.72 637.53 791.60 637.60 C793.48 637.67 796.73 635.75 798.70 634.20 C800.67 632.65 801.90 630.78 803.40 628.30 C804.90 625.82 807.13 623.30 807.70 619.30 C808.27 615.30 807.20 609.82 806.80 604.30 C806.40 598.78 806.30 592.22 805.30 586.20 C804.30 580.18 802.07 572.95 800.80 568.20 C799.53 563.45 799.50 559.90 797.70 557.70 C795.90 555.50 793.78 554.95 790.00 555.00 C786.22 555.05 777.75 556.58 775.00 558.00 C772.25 559.42 773.12 559.97 773.50 563.50Z" fill="url(#gB)" />
<path d="M798.50 544.20 C799.87 545.23 802.07 550.38 804.20 554.20 C806.33 558.02 809.15 563.05 811.30 567.10 C813.45 571.15 815.60 575.32 817.10 578.50 C818.60 581.68 819.17 581.90 820.30 586.20 C821.43 590.50 823.30 598.78 823.90 604.30 C824.50 609.82 824.50 615.30 823.90 619.30 C823.30 623.30 822.15 626.28 820.30 628.30 C818.45 630.32 815.05 631.90 812.80 631.40 C810.55 630.90 807.65 627.32 806.80 625.30 C805.95 623.28 807.70 622.80 807.70 619.30 C807.70 615.80 807.20 609.82 806.80 604.30 C806.40 598.78 806.30 592.22 805.30 586.20 C804.30 580.18 802.07 572.95 800.80 568.20 C799.53 563.45 798.50 561.07 797.70 557.70 C796.90 554.33 795.87 550.25 796.00 548.00 C796.13 545.75 797.13 543.17 798.50 544.20Z" fill="url(#gRf)" />
<path d="M775.70 499.70 C779.27 499.58 783.08 499.93 785.70 501.40 C788.32 502.87 789.87 505.17 791.40 508.50 C792.93 511.83 794.07 516.87 794.90 521.40 C795.73 525.93 795.92 530.95 796.40 535.70 C796.88 540.45 797.93 546.33 797.80 549.90 C797.67 553.47 797.15 555.20 795.60 557.10 C794.05 559.00 791.35 560.35 788.50 561.30 C785.65 562.25 781.58 562.92 778.50 562.80 C775.42 562.68 772.85 562.50 770.00 560.60 C767.15 558.70 763.78 555.32 761.40 551.40 C759.02 547.48 757.05 541.87 755.70 537.10 C754.35 532.33 753.30 527.32 753.30 522.80 C753.30 518.28 753.87 513.45 755.70 510.00 C757.53 506.55 760.97 503.82 764.30 502.10 C767.63 500.38 772.13 499.82 775.70 499.70Z" fill="url(#gRs)" />
<clipPath id="csg"><ellipse cx="942.1" cy="519.8" rx="19.9" ry="19.9"/></clipPath>
<ellipse cx="942.1" cy="519.8" rx="19.9" ry="19.9" fill="url(#gS)"/>
<g clip-path="url(#csg)">
<path d="M914.00 545.00 C909.33 538.50 912.00 512.57 914.00 506.00 C916.00 499.43 923.03 505.88 926.00 505.60 C928.97 505.32 929.77 504.60 931.80 504.30 C933.83 504.00 936.53 503.80 938.20 503.80 C939.87 503.80 940.60 504.38 941.80 504.30 C943.00 504.22 944.20 503.22 945.40 503.30 C946.60 503.38 947.90 503.58 949.00 504.80 C950.10 506.02 951.00 508.70 952.00 510.60 C953.00 512.50 954.90 514.83 955.00 516.20 C955.10 517.57 953.50 517.83 952.60 518.80 C951.70 519.77 950.63 520.87 949.60 522.00 C948.57 523.13 947.40 524.50 946.40 525.60 C945.40 526.70 944.33 525.37 943.60 528.60 C942.87 531.83 946.93 542.27 942.00 545.00 C937.07 547.73 918.67 551.50 914.00 545.00Z" fill="url(#gBs)" />
<path d="M956.8 506.4 L964.0 506.0 L964.0 523.0 L961.0 522.6 L960.5 518.0 L959.1 512.5 L957.7 509.0Z" fill="#cc0000" />
</g>
<path d="M953.50 536.00 C954.27 533.27 954.75 532.70 955.60 531.60 C956.45 530.50 957.63 529.93 958.60 529.40 C959.57 528.87 960.52 528.18 961.40 528.40 C962.28 528.62 963.12 528.78 963.90 530.70 C964.68 532.62 965.38 536.22 966.10 539.90 C966.82 543.58 967.13 548.52 968.20 552.80 C969.27 557.08 970.83 561.08 972.50 565.60 C974.17 570.12 977.13 576.55 978.20 579.90 C979.27 583.25 979.03 583.78 978.90 585.70 C978.77 587.62 978.34 590.60 977.44 591.40 C976.54 592.20 975.39 591.40 973.48 590.50 C971.57 589.60 968.58 588.75 966.00 586.00 C963.42 583.25 960.50 580.33 958.00 574.00 C955.50 567.67 951.75 554.33 951.00 548.00 C950.25 541.67 952.73 538.73 953.50 536.00Z" fill="url(#gBd)" />
<path d="M932.00 582.00 C929.59 587.60 937.15 593.47 939.56 598.60 C941.96 603.73 944.58 609.00 946.42 612.80 C948.25 616.60 948.28 616.17 950.57 621.40 C952.87 626.63 956.53 635.63 960.19 644.20 C963.85 652.77 967.59 668.03 972.51 672.80 C977.43 677.57 986.66 674.72 989.72 672.80 C992.79 670.88 991.29 666.53 990.91 661.30 C990.53 656.07 989.26 649.00 987.44 641.40 C985.63 633.80 982.77 623.55 980.02 615.70 C977.27 607.85 973.84 600.25 970.92 594.30 C968.00 588.35 965.32 584.88 962.50 580.00 C959.68 575.12 959.08 564.67 954.00 565.00 C948.92 565.33 934.41 576.40 932.00 582.00Z" fill="url(#gB)" />
<path d="M956.00 562.00 C956.17 564.33 959.65 574.62 962.00 580.00 C964.35 585.38 967.27 588.35 970.12 594.30 C972.97 600.25 976.30 607.85 979.12 615.70 C981.94 623.55 985.08 633.80 987.04 641.40 C989.01 649.00 990.46 656.07 990.91 661.30 C991.35 666.53 987.25 670.88 989.72 672.80 C992.19 674.72 1002.99 674.47 1005.72 672.80 C1008.46 671.13 1006.21 665.90 1006.14 662.80 C1006.07 659.70 1006.16 658.48 1005.30 654.20 C1004.45 649.92 1003.32 644.23 1001.02 637.10 C998.72 629.97 994.99 618.78 991.50 611.40 C988.01 604.02 984.07 598.03 980.08 592.80 C976.10 587.57 970.78 584.47 967.60 580.00 C964.42 575.53 962.93 569.00 961.00 566.00 C959.07 563.00 955.83 559.67 956.00 562.00Z" fill="url(#gR)" />
<path d="M990.9 661.3 L1004.9 654.4 L1005.8 662.8 L1005.4 672.8 L989.7 672.8Z" fill="#c20000" />
<path d="M991.0 659.5 L996.7 672.8 L989.5 672.8Z" fill="#7c0000" />
<rect x="959.0" y="672.8" width="60" height="6" fill="#fff"/>
<path d="M922.40 529.20 C923.22 528.37 922.72 528.10 925.60 527.80 C928.48 527.50 935.68 527.03 939.70 527.40 C943.72 527.77 947.60 528.87 949.70 530.00 C951.80 531.13 951.52 531.83 952.30 534.20 C953.08 536.57 953.62 540.38 954.40 544.20 C955.18 548.02 956.13 552.82 957.00 557.10 C957.87 561.38 959.00 566.08 959.60 569.90 C960.20 573.72 960.95 577.37 960.60 580.00 C960.25 582.63 958.77 583.08 957.50 585.70 C956.23 588.32 954.46 593.08 952.96 595.70 C951.46 598.32 950.04 601.75 948.52 601.40 C947.00 601.05 945.23 594.78 943.85 593.60 C942.47 592.42 941.09 593.47 940.22 594.30 C939.35 595.13 939.38 598.13 938.64 598.60 C937.90 599.07 937.06 598.77 935.80 597.10 C934.55 595.43 932.72 591.45 931.10 588.60 C929.48 585.75 927.37 583.35 926.10 580.00 C924.83 576.65 924.37 572.80 923.50 568.50 C922.63 564.20 921.43 558.97 920.90 554.20 C920.37 549.43 920.33 543.47 920.30 539.90 C920.27 536.33 920.35 534.58 920.70 532.80 C921.05 531.02 921.58 530.03 922.40 529.20Z" fill="url(#gR)" />
<g stroke-width="0.8" fill="none">
<path d="M261.9 637.8V625.6" stroke="#f2f29a"/>
<path d="M261.9 637.7L251.9 638.0" stroke="#a6eca6"/>
<path d="M261.9 637.7L266.9 637.8" stroke="#f0aaaa"/>
</g>
<circle cx="267.2" cy="637.8" r="1.15" fill="#b00808"/>
<ellipse cx="251.9" cy="638.1" rx="1.6" ry="1.05" fill="#22cc22"/>
<circle cx="261.9" cy="625.3" r="0.95" fill="#e6de3c"/>
<g font-family="Liberation Serif, serif" font-size="19.5" font-style="italic" fill="#1c1c1c">
<text x="250.3" y="634.0">z</text>
<text x="266.2" y="625.6">y</text>
<text x="269.1" y="641.9">x</text>
</g>
<g stroke-width="0.8" fill="none">
<path d="M411.0 637.8V625.6" stroke="#f2f29a"/>
<path d="M411.0 637.7L401.0 638.0" stroke="#a6eca6"/>
<path d="M411.0 637.7L416.0 637.8" stroke="#f0aaaa"/>
</g>
<circle cx="416.3" cy="637.8" r="1.15" fill="#b00808"/>
<ellipse cx="401.0" cy="638.1" rx="1.6" ry="1.05" fill="#22cc22"/>
<circle cx="411.0" cy="625.3" r="0.95" fill="#e6de3c"/>
<g font-family="Liberation Serif, serif" font-size="19.5" font-style="italic" fill="#1c1c1c">
<text x="399.4" y="634.0">z</text>
<text x="415.3" y="625.6">y</text>
<text x="418.2" y="641.9">x</text>
</g>
<g stroke-width="0.8" fill="none">
<path d="M562.6 637.8V625.6" stroke="#f2f29a"/>
<path d="M562.6 637.7L552.6 638.0" stroke="#a6eca6"/>
<path d="M562.6 637.7L567.6 637.8" stroke="#f0aaaa"/>
</g>
<circle cx="567.9" cy="637.8" r="1.15" fill="#b00808"/>
<ellipse cx="552.6" cy="638.1" rx="1.6" ry="1.05" fill="#22cc22"/>
<circle cx="562.6" cy="625.3" r="0.95" fill="#e6de3c"/>
<g font-family="Liberation Serif, serif" font-size="19.5" font-style="italic" fill="#1c1c1c">
<text x="551.0" y="634.0">z</text>
<text x="566.9" y="625.6">y</text>
<text x="569.8" y="641.9">x</text>
</g>
<g stroke-width="0.8" fill="none">
<path d="M758.6 637.8V625.6" stroke="#f2f29a"/>
<path d="M758.6 637.7L748.6 638.0" stroke="#a6eca6"/>
<path d="M758.6 637.7L763.6 637.8" stroke="#f0aaaa"/>
</g>
<circle cx="763.9" cy="637.8" r="1.15" fill="#b00808"/>
<ellipse cx="748.6" cy="638.1" rx="1.6" ry="1.05" fill="#22cc22"/>
<circle cx="758.6" cy="625.3" r="0.95" fill="#e6de3c"/>
<g font-family="Liberation Serif, serif" font-size="19.5" font-style="italic" fill="#1c1c1c">
<text x="747.0" y="634.0">z</text>
<text x="762.9" y="625.6">y</text>
<text x="765.8" y="641.9">x</text>
</g>
<g stroke-width="0.8" fill="none">
<path d="M926.8 637.8V625.6" stroke="#f2f29a"/>
<path d="M926.8 637.7L916.8 638.0" stroke="#a6eca6"/>
<path d="M926.8 637.7L931.8 637.8" stroke="#f0aaaa"/>
</g>
<circle cx="932.1" cy="637.8" r="1.15" fill="#b00808"/>
<ellipse cx="916.8" cy="638.1" rx="1.6" ry="1.05" fill="#22cc22"/>
<circle cx="926.8" cy="625.3" r="0.95" fill="#e6de3c"/>
<g font-family="Liberation Serif, serif" font-size="19.5" font-style="italic" fill="#1c1c1c">
<text x="915.2" y="634.0">z</text>
<text x="931.1" y="625.6">y</text>
<text x="934.0" y="641.9">x</text>
</g>
<g font-family="Liberation Serif, serif" font-size="29.5" fill="#111">
<text y="521.7"><tspan x="209.5">(</tspan><tspan x="217.8" font-style="italic">c</tspan><tspan x="231.6">)</tspan></text>
<text y="521.7"><tspan x="388.5">(</tspan><tspan x="397.7" font-style="italic">d</tspan><tspan x="416.0">)</tspan></text>
<text y="521.7"><tspan x="554.0">(</tspan><tspan x="563.5" font-style="italic">e</tspan><tspan x="576.7">)</tspan></text>
<text y="521.7"><tspan x="882.5">(</tspan><tspan x="892.8" font-style="italic">g</tspan><tspan x="906.6">)</tspan></text>
<text y="521.7"><tspan x="705.7">(</tspan><tspan x="717.0" font-style="italic" textLength="11.8" lengthAdjust="spacingAndGlyphs">f</tspan><tspan x="736.2">)</tspan></text>
</g>
<text x="317.6" y="696.9" font-family="Liberation Serif, serif" font-size="24.7" fill="#111"><tspan font-style="italic">t</tspan><tspan font-size="16.8" dy="3.8">1</tspan></text>
<text x="470.6" y="696.9" font-family="Liberation Serif, serif" font-size="24.7" fill="#111"><tspan font-style="italic">t</tspan><tspan font-size="16.8" dy="3.8">2</tspan></text>
<text x="637.4" y="696.9" font-family="Liberation Serif, serif" font-size="24.7" fill="#111"><tspan font-style="italic">t</tspan><tspan font-size="16.8" dy="3.8">3</tspan></text>
<text x="807.4" y="696.9" font-family="Liberation Serif, serif" font-size="24.7" fill="#111"><tspan font-style="italic">t</tspan><tspan font-size="16.8" dy="3.8">4</tspan></text>
<text x="975.6" y="696.9" font-family="Liberation Serif, serif" font-size="24.7" fill="#111"><tspan font-style="italic">t</tspan><tspan font-size="16.8" dy="3.8">5</tspan></text>
</svg>
</body>
</html>
